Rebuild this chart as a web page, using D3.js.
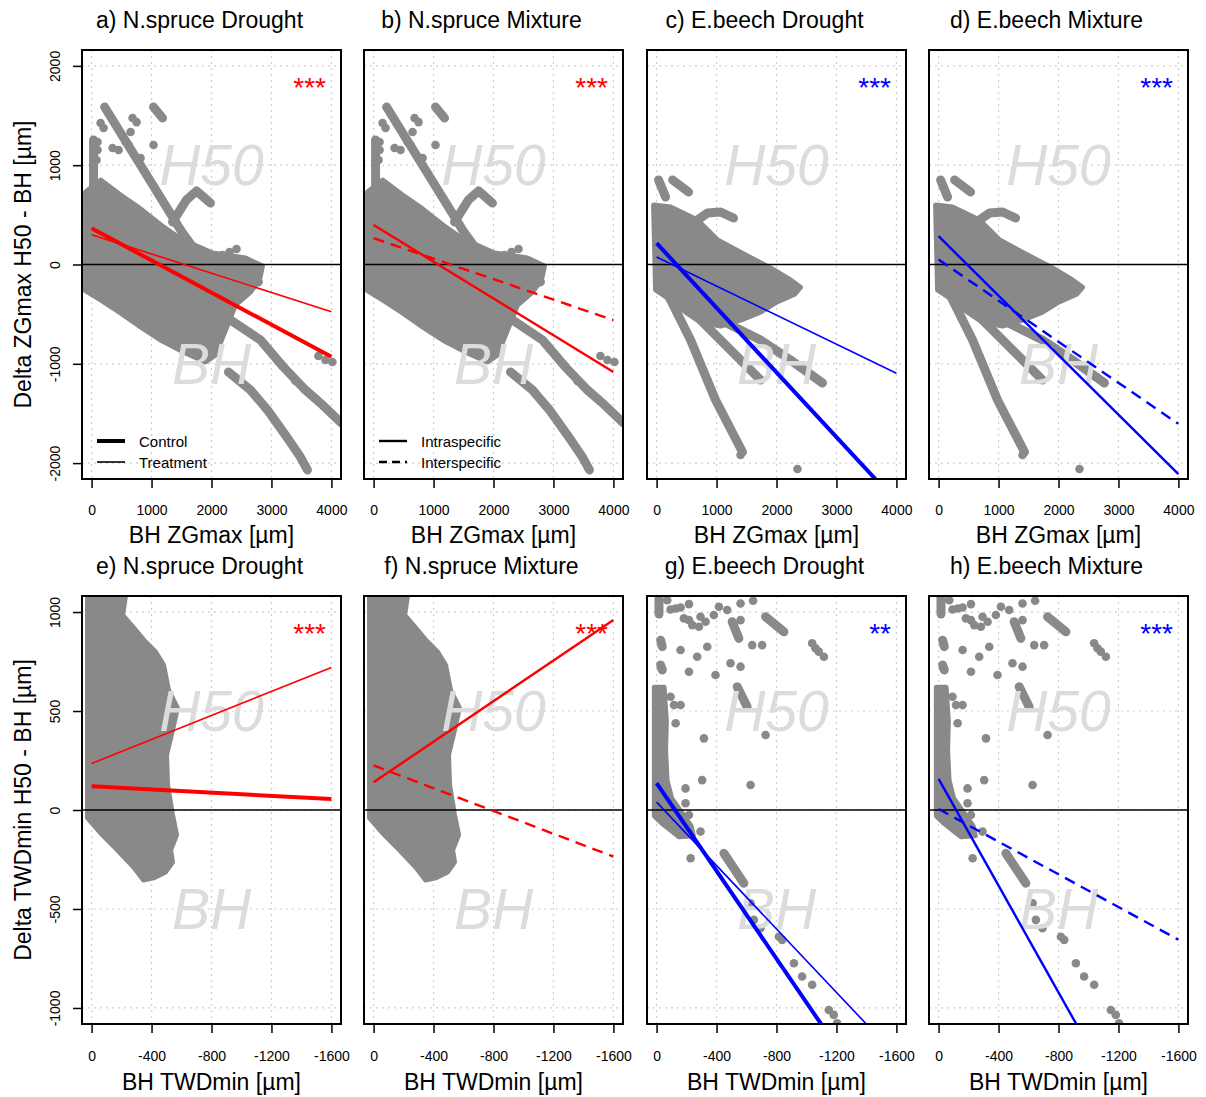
<!DOCTYPE html>
<html>
<head>
<meta charset="utf-8">
<script src="https://cdn.jsdelivr.net/npm/d3@7"></script>
<style>
body { margin: 0; background: #fff; }
svg text { font-family: "Liberation Sans", Arial, sans-serif; }
</style>
</head>
<body>
<script>
// panel titles and significance stars
var titles = ["a) N.spruce Drought", "b) N.spruce Mixture", "c) E.beech Drought", "d) E.beech Mixture",
              "e) N.spruce Drought", "f) N.spruce Mixture", "g) E.beech Drought", "h) E.beech Mixture"];
var signif = ["***", "***", "***", "***", "***", "***", "**", "***"];

// tick values
var zgXTicks = [0, 1000, 2000, 3000, 4000];
var zgYTicks = [-2000, -1000, 0, 1000, 2000];
var twdXTicks = [0, -400, -800, -1200, -1600];
var twdYTicks = [-1000, -500, 0, 500, 1000];

// regression lines (start / end)
var regA_control = [[0, 365], [4000, -930]];
var regA_treat   = [[0, 300], [4000, -475]];
var regB_intra   = [[0, 398], [4000, -1083]];
var regB_inter   = [[0, 265], [4000, -560]];
var regC_control = [[0, 215], [4000, -2389]];
var regC_treat   = [[0, 75], [4000, -1095]];
var regD_intra   = [[0, 285], [4000, -2110]];
var regD_inter   = [[0, 50], [4000, -1605]];
var regE_control = [[0, 120], [-1600, 55]];
var regE_treat   = [[0, 235], [-1600, 720]];
var regF_intra   = [[0, 140], [-1600, 960]];
var regF_inter   = [[0, 225], [-1600, -235]];
var regG_control = [[0, 136], [-1600, -1638]];
var regG_treat   = [[0, 40], [-1600, -1242]];
var regH_intra   = [[0, 157], [-1600, -2000]];
var regH_inter   = [[0, 5], [-1600, -655]];

// N.spruce ZGmax scatter: dense cloud outline, point trails, single points
var spruceZgCloud = [[-100,730],[150,850],[483,700],[817,560],[1150,400],[1483,260],[2017,116],[2567,65],[2850,-15],
  [2800,-156],[2650,-277],[2400,-408],[2233,-660],[2067,-911],[1900,-982],[1567,-891],[1150,-760],
  [817,-629],[483,-488],[150,-357],[-117,-257]];
var spruceZgTrails = [
  [[217,1586],[1517,317],[1783,96]],
  [[1033,1586],[1183,1475]],
  [[1350,428],[1583,650],[1750,740],[1867,680],[1983,619]],
  [[1650,-257],[2317,-559],[2817,-760],[3200,-1032],[3567,-1264],[3817,-1395],[4167,-1596]],
  [[2283,-1083],[2650,-1264],[2933,-1465],[3233,-1717],[3483,-1939],[3600,-2069]],
  [[1817,-35],[2317,-106],[2783,-176]],
  [[33,1254],[33,650]]
];
var spruceZgDots = [[1033,1203],[150,1425],[200,1374],[100,1233],[100,1153],[83,1052],[350,1173],[450,1153],
  [567,1233],[683,1475],[750,1434],[650,1334],[617,1203],[817,1072],[2183,96],[2300,126],[2417,156],
  [3783,-921],[3900,-962],[4017,-982],[3400,-1173],[3483,-1213]];

// E.beech ZGmax scatter
var beechZgCloud = [[-50,599],[233,579],[683,448],[1017,247],[1483,96],[1900,-35],[2233,-156],[2400,-230],
  [2300,-300],[2000,-380],[1733,-480],[1400,-560],[1067,-620],[733,-580],[483,-480],[233,-357],[-17,-257]];
var beechZgTrails = [
  [[33,851],[150,680]],
  [[267,851],[533,730]],
  [[683,448],[850,519],[1067,529],[1283,468]],
  [[150,-257],[567,-760],[983,-1364],[1433,-1888]],
  [[1067,-559],[1733,-760],[2233,-962],[2767,-1193]],
  [[733,-559],[1233,-861],[1733,-1163]]
];
var beechZgDots = [[2350,-2059],[1400,-1918]];

// N.spruce TWDmin scatter
var spruceTwdCloud = [[27,1150],[-240,1150],[-207,985],[-293,909],[-347,859],[-427,798],[-480,732],[-513,606],
  [-573,515],[-540,404],[-500,278],[-507,126],[-540,-25],[-567,-126],[-527,-202],[-540,-263],[-493,-313],
  [-413,-343],[-347,-354],[-280,-288],[-173,-202],[-60,-116],[27,-40]];
var spruceTwdTrails = [];
var spruceTwdDots = [[-347,823],[-413,758],[-480,641]];

// E.beech TWDmin scatter
var beechTwdCloud = [[15,620],[-50,620],[-65,450],[-60,300],[-70,150],[-100,60],[-230,-80],[-245,-130],
  [-150,-135],[-40,-70],[15,-30]];
var beechTwdTrails = [
  [[-16,1080],[-16,990]],
  [[-27,858],[-38,825]],
  [[-27,732],[-38,707]],
  [[-504,951],[-549,867]],
  [[-727,976],[-849,900]],
  [[-538,623],[-604,522]],
  [[-449,-219],[-582,-370]]
];
var beechTwdDots = [[-71,1060],[-93,1013],[-127,1018],[-160,1023],[-216,1040],[-182,968],[-216,959],[-238,934],
  [-293,976],[-282,926],[-327,951],[-382,985],[-416,1027],[-471,1010],[-560,1043],[-644,1057],[-560,959],
  [-638,833],[-704,833],[-160,808],[-216,698],[-271,774],[-338,825],[-393,682],[-493,741],[-560,724],
  [-1038,842],[-1060,817],[-1082,800],[-1116,774],[-93,572],[-116,530],[-160,530],[-127,438],[-727,379],
  [-316,362],[-304,151],[-193,109],[-627,126],[-193,34],[-216,-25],
  [-293,-109],[-227,-244],[-627,-471],[-649,-555],[-693,-597],[-816,-640],[-838,-656],[-916,-774],
  [-971,-841],[-1038,-883],[-1149,-1010],[-1182,-1035],[-1204,-1077]];

var spruceZg = {cloud: spruceZgCloud, trails: spruceZgTrails, dots: spruceZgDots};
var beechZg = {cloud: beechZgCloud, trails: beechZgTrails, dots: beechZgDots};
var spruceTwd = {cloud: spruceTwdCloud, trails: spruceTwdTrails, dots: spruceTwdDots};
var beechTwd = {cloud: beechTwdCloud, trails: beechTwdTrails, dots: beechTwdDots};

var panels = [
  {scatter: spruceZg, lines: [regA_control, regA_treat], kind: "drought", col: "#ff0000", legend: ["Control", "Treatment"]},
  {scatter: spruceZg, lines: [regB_intra, regB_inter], kind: "mixture", col: "#ff0000", legend: ["Intraspecific", "Interspecific"]},
  {scatter: beechZg, lines: [regC_control, regC_treat], kind: "drought", col: "#0000ff"},
  {scatter: beechZg, lines: [regD_intra, regD_inter], kind: "mixture", col: "#0000ff"},
  {scatter: spruceTwd, lines: [regE_control, regE_treat], kind: "drought", col: "#ff0000"},
  {scatter: spruceTwd, lines: [regF_intra, regF_inter], kind: "mixture", col: "#ff0000"},
  {scatter: beechTwd, lines: [regG_control, regG_treat], kind: "drought", col: "#0000ff"},
  {scatter: beechTwd, lines: [regH_intra, regH_inter], kind: "mixture", col: "#0000ff"}
];

var colLefts = [82, 364, 647, 929],
    boxW = 259,
    rows = [{top: 50, bottom: 479}, {top: 596, bottom: 1024}];
var ptCol = "#898989";

var svg = d3.select("body").append("svg")
    .attr("width", 1206)
    .attr("height", 1097);

panels.forEach(function(p, i) {
  var r = Math.floor(i / 4), c = i % 4;
  var L = colLefts[c], R = L + boxW, T = rows[r].top, B = rows[r].bottom;
  var x = d3.scaleLinear().domain(r == 0 ? [-160, 4160] : [64, -1664]).range([L, R]);
  var y = d3.scaleLinear().domain(r == 0 ? [-2160, 2160] : [-1081, 1081]).range([B, T]);
  var xt = r == 0 ? zgXTicks : twdXTicks,
      yt = r == 0 ? zgYTicks : twdYTicks;

  svg.append("clipPath").attr("id", "clip" + i)
    .append("rect").attr("x", L).attr("y", T).attr("width", boxW).attr("height", B - T);
  var g = svg.append("g").attr("clip-path", "url(#clip" + i + ")");

  // grid
  g.selectAll(".vg").data(xt).enter().append("line")
    .attr("x1", function(d) { return x(d); }).attr("x2", function(d) { return x(d); })
    .attr("y1", T).attr("y2", B)
    .style("stroke", "#cfcfcf").style("stroke-width", 1.2).style("stroke-dasharray", "2,4");
  g.selectAll(".hg").data(yt).enter().append("line")
    .attr("y1", function(d) { return y(d); }).attr("y2", function(d) { return y(d); })
    .attr("x1", L).attr("x2", R)
    .style("stroke", "#cfcfcf").style("stroke-width", 1.2).style("stroke-dasharray", "2,4");

  // scatter
  var line = d3.line().x(function(d) { return x(d[0]); }).y(function(d) { return y(d[1]); });
  g.append("path").attr("d", line.curve(d3.curveLinearClosed)(p.scatter.cloud))
    .style("fill", ptCol).style("stroke", ptCol).style("stroke-width", 5).style("stroke-linejoin", "round");
  line.curve(d3.curveLinear);
  g.selectAll(".trail").data(p.scatter.trails).enter().append("path")
    .attr("d", function(d) { return line(d); })
    .style("fill", "none").style("stroke", ptCol).style("stroke-width", 9)
    .style("stroke-linecap", "round").style("stroke-linejoin", "round");
  g.selectAll(".dot").data(p.scatter.dots).enter().append("circle")
    .attr("cx", function(d) { return x(d[0]); })
    .attr("cy", function(d) { return y(d[1]); })
    .attr("r", 4.3).style("fill", ptCol);

  // watermarks
  var wx = r == 0 ? 2000 : -800, wy = r == 0 ? 1000 : 500;
  [["H50", wy], ["BH", -wy]].forEach(function(w) {
    g.append("text").attr("x", x(wx)).attr("y", y(w[1]))
      .attr("text-anchor", "middle").attr("dominant-baseline", "central")
      .style("font-size", "57px").style("font-style", "italic").style("fill", "#dcdcdc")
      .text(w[0]);
  });

  // zero line
  g.append("line").attr("x1", L).attr("x2", R).attr("y1", y(0)).attr("y2", y(0))
    .style("stroke", "#000").style("stroke-width", 1.5);

  // regression lines
  var widths = p.kind == "drought" ? [4, 1.6] : [2.4, 2.4];
  var dashes = p.kind == "drought" ? [null, null] : [null, "11,7"];
  p.lines.forEach(function(l, k) {
    g.append("path").attr("d", line(l))
      .style("fill", "none").style("stroke", p.col).style("stroke-width", widths[k])
      .style("stroke-dasharray", dashes[k]);
  });

  // significance
  svg.append("text").attr("x", R - 15).attr("y", T + 47)
    .attr("text-anchor", "end").style("font-size", "28px").style("fill", p.col)
    .text(signif[i]);

  // box
  svg.append("rect").attr("x", L).attr("y", T).attr("width", boxW).attr("height", B - T)
    .style("fill", "none").style("stroke", "#000").style("stroke-width", 2);

  // axes
  var xAxis = svg.append("g").attr("transform", "translate(0," + B + ")")
    .call(d3.axisBottom(x).tickValues(xt).tickSize(9).tickPadding(r == 0 ? 17 : 18)
      .tickFormat(function(d) { return String(d); }));
  xAxis.select(".domain").remove();
  xAxis.selectAll("line").style("stroke-width", 1.5);
  xAxis.selectAll("text").style("font-size", "14px").style("font-family", "Liberation Sans, Arial, sans-serif");

  if (c == 0) {
    var yAxis = svg.append("g").attr("transform", "translate(" + L + ",0)")
      .call(d3.axisLeft(y).tickValues(yt).tickSize(9).tickFormat(function(d) { return String(d); }));
    yAxis.select(".domain").remove();
    yAxis.selectAll("line").style("stroke-width", 1.5);
    yAxis.selectAll("text")
      .attr("transform", "rotate(-90)").attr("x", 0).attr("y", -22).attr("dy", 0)
      .attr("text-anchor", "middle")
      .style("font-size", "14px").style("font-family", "Liberation Sans, Arial, sans-serif");
  }

  // titles
  svg.append("text").attr("x", (L + R) / 2 - 12).attr("y", r == 0 ? 28 : 574)
    .attr("text-anchor", "middle").style("font-size", "23px").text(titles[i]);
  svg.append("text").attr("x", (L + R) / 2).attr("y", r == 0 ? 543 : 1090)
    .attr("text-anchor", "middle").style("font-size", "23px")
    .text(r == 0 ? "BH ZGmax [µm]" : "BH TWDmin [µm]");
  if (c == 0) {
    svg.append("text")
      .attr("transform", "translate(31," + ((T + B) / 2) + ") rotate(-90)")
      .attr("text-anchor", "middle").style("font-size", "23px")
      .text(r == 0 ? "Delta ZGmax H50 - BH [µm]" : "Delta TWDmin H50 - BH [µm]");
  }

  // legend
  if (p.legend) {
    p.legend.forEach(function(lab, k) {
      var ly = B - 38 + k * 21;
      svg.append("line").attr("x1", L + 15).attr("x2", L + 43).attr("y1", ly).attr("y2", ly)
        .style("stroke", "#000").style("stroke-width", widths[k]).style("stroke-dasharray", dashes[k] ? "8,5" : null);
      svg.append("text").attr("x", L + 57).attr("y", ly).attr("dominant-baseline", "central")
        .style("font-size", "15px").text(lab);
    });
  }
});
</script>
</body>
</html>
